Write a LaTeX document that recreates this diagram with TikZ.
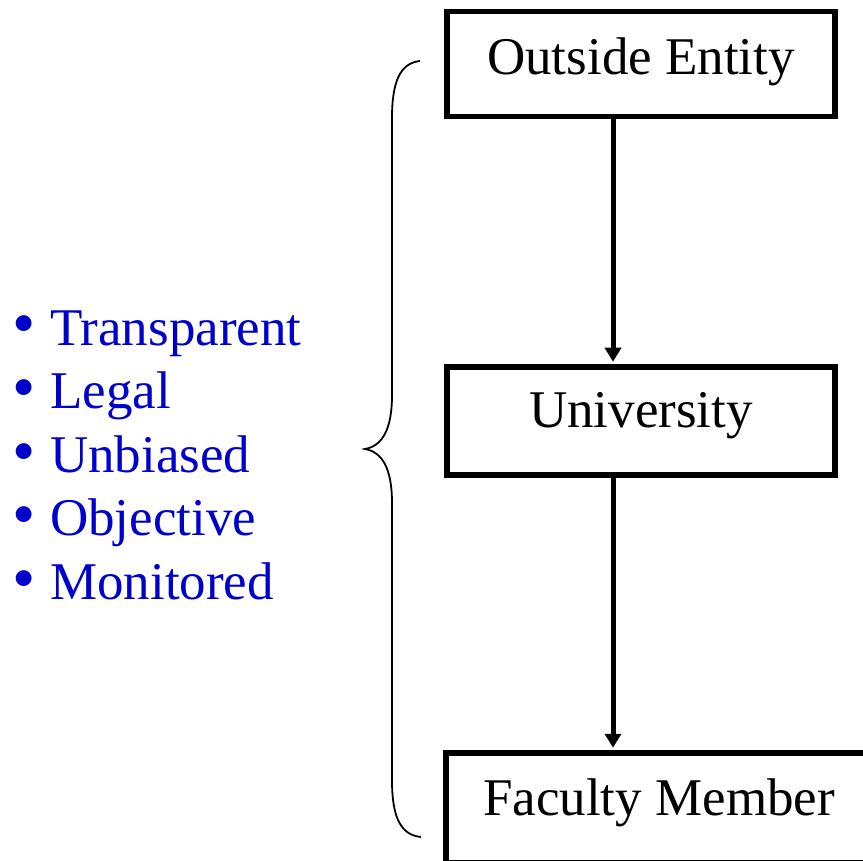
\documentclass[tikz,border=0pt]{standalone}
\usepackage{fontspec}
\setmainfont{Liberation Serif}
\usetikzlibrary{arrows.meta}
\definecolor{listblue}{RGB}{0,0,204}
\newcommand{\bigbul}{\makebox[38pt][l]{\smash{\raisebox{-1pt}{\scalebox{1.25}{\textbullet}}}}}
\begin{document}
\begin{tikzpicture}[x=1pt,y=-1pt,
  boxnode/.style={draw=black, line width=5.5pt, inner sep=0pt,
    font=\fontsize{53}{63.5}\selectfont, text height=36pt},
  flowarrow/.style={line width=5pt, -{Triangle[width=16pt,length=14pt]}, shorten >=2.5pt},
  bracepath/.style={line width=1.8pt},
  itemtext/.style={anchor=base west, inner sep=0pt, text=listblue,
    font=\fontsize{53}{63.5}\selectfont}
]
\useasboundingbox (0,0) rectangle (863,861);
\clip (0,0) rectangle (863,861);

% boxes
\node[boxnode, minimum width=388pt, minimum height=105pt, text depth=14pt] (oe) at (641,64) {Outside Entity};
\node[boxnode, minimum width=388pt, minimum height=108pt, text depth=22pt] (uni) at (641,421) {University};
\node[boxnode, minimum width=426pt, minimum height=110pt, text depth=22pt] (fm) at (659,808) {Faculty Member};

% arrows
\coordinate (ax) at (613,0);
\draw[flowarrow] (oe.south -| ax) -- (uni.north -| ax);
\draw[flowarrow] (uni.south -| ax) -- (fm.north -| ax);

% brace
\coordinate (bt) at (420,61);
\coordinate (bm) at (365,449);
\coordinate (bb) at (421,837);
\draw[bracepath] (bt) .. controls (400,63) and (392,82) .. (392,118)
  -- (392,395) .. controls (392,430) and (382,446) .. (bm)
  .. controls (382,452) and (392,468) .. (392,503)
  -- (392,780) .. controls (392,816) and (400,835) .. (bb);

% list
\node[itemtext] (i1) at (12,345) {\bigbul Transparent};
\node[itemtext] (i2) at (12,408.5) {\bigbul Legal};
\node[itemtext] (i3) at (12,472) {\bigbul Unbiased};
\node[itemtext] (i4) at (12,535.5) {\bigbul Objective};
\node[itemtext] (i5) at (12,599) {\bigbul Monitored};
\end{tikzpicture}
\end{document}
